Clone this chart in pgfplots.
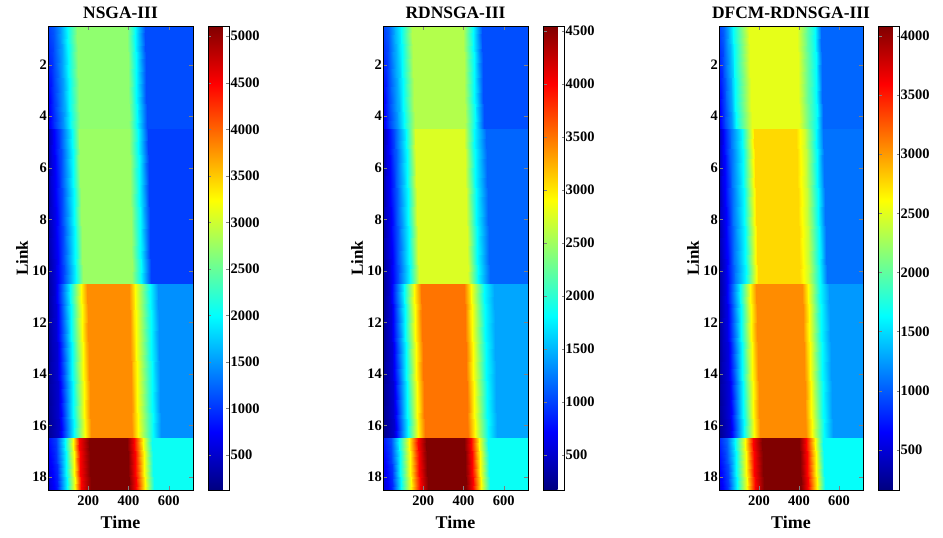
\documentclass[border=0pt]{standalone}
\usepackage{fontspec}
\setmainfont{Liberation Serif}
\usepackage{pgfplots}
\pgfplotsset{compat=1.18}

\pgfplotsset{
  /pgf/number format/1000 sep={},
  /pgf/number format/assume math mode=true,
  hm/.style={
    scale only axis, width=145bp, height=464bp,
    xmin=0, xmax=720, ymin=0.5, ymax=18.5, y dir=reverse,
    xtick={200,400,600}, ytick={2,4,...,18},
    tick pos=both, tick align=inside, major tick length=4bp,
    axis on top, colormap/jet, colorbar,
    tick label style={font=\fontsize{14.5}{14.5}\selectfont\bfseries},
    yticklabel style={inner sep=1bp},
    xticklabel style={yshift=-2bp},
    xlabel={Time}, ylabel={Link},
    xlabel style={font=\fontsize{18}{18}\selectfont\bfseries, at={(axis description cs:0.5,0)}, anchor=north, inner sep=0pt, yshift=-26bp},
    ylabel style={font=\fontsize{17}{17}\selectfont\bfseries},
    ylabel shift=0bp,
    title style={font=\fontsize{17.5}{17.5}\selectfont\bfseries, yshift=-2bp},
    colorbar style={at={(parent axis.north east)}, anchor=north west, xshift=7bp,
      scale only axis, width=21bp, height=464bp,
      yticklabel pos=right, tick align=inside, major tick length=3bp,
      yticklabel style={inner sep=1bp}},
  }
}

\begin{document}
\begin{tikzpicture}
\path[use as bounding box] (0,0) rectangle (943bp,538bp);

% NSGA-III
\begin{axis}[hm, at={(48bp,48bp)}, anchor=south west, title={NSGA-III},
  point meta min=125, point meta max=5110,
  colorbar style={ytick={500,1000,...,5000}}]
\addplot[surf, shader=interp, point meta=explicit] coordinates {
(0,0.5)[1050] (30,0.5)[1200] (65,0.5)[1550] (100,0.5)[2050] (145,0.5)[2700] (270,0.5)[2700] (390,0.5)[2700] (432,0.5)[2000] (482,0.5)[1120] (600,0.5)[1120] (720,0.5)[1120]

(0,4.5)[600] (30,4.5)[950] (80,4.5)[1500] (115,4.5)[2050] (160,4.5)[2700] (280,4.5)[2700] (400,4.5)[2700] (442,4.5)[2000] (492,4.5)[1120] (600,4.5)[1120] (720,4.5)[1120]

(0,4.5)[350] (25,4.5)[700] (60,4.5)[1100] (120,4.5)[2000] (155,4.5)[2750] (280,4.5)[2750] (400,4.5)[2750] (445,4.5)[2000] (495,4.5)[1050] (600,4.5)[1050] (720,4.5)[1050]

(0,10.5)[250] (40,10.5)[600] (80,10.5)[1100] (140,10.5)[2000] (175,10.5)[2750] (295,10.5)[2750] (415,10.5)[2750] (460,10.5)[2000] (510,10.5)[1050] (600,10.5)[1050] (720,10.5)[1050]

(0,10.5)[250] (35,10.5)[550] (108,10.5)[1994] (165,10.5)[3241] (193,10.5)[3800] (295,10.5)[3800] (400,10.5)[3800] (430,10.5)[3241] (505,10.5)[1994] (545,10.5)[1450] (720,10.5)[1450]

(0,16.5)[200] (55,16.5)[500] (128,16.5)[1994] (185,16.5)[3241] (213,16.5)[3800] (315,16.5)[3800] (418,16.5)[3800] (448,16.5)[3241] (522,16.5)[1994] (562,16.5)[1450] (720,16.5)[1450]

(0,16.5)[800] (40,16.5)[1050] (85,16.5)[1994] (122,16.5)[3241] (155,16.5)[4487] (205,16.5)[5110] (390,16.5)[5110] (425,16.5)[4487] (470,16.5)[3241] (518,16.5)[2050] (720,16.5)[2050]

(0,18.5)[500] (45,18.5)[850] (95,18.5)[1994] (132,18.5)[3241] (165,18.5)[4487] (215,18.5)[5110] (400,18.5)[5110] (435,18.5)[4487] (480,18.5)[3241] (528,18.5)[2050] (720,18.5)[2050]
};
\end{axis}

% RDNSGA-III
\begin{axis}[hm, at={(383bp,48bp)}, anchor=south west, title={RDNSGA-III},
  point meta min=170, point meta max=4547,
  colorbar style={ytick={500,1000,...,4500}}]
\addplot[surf, shader=interp, point meta=explicit] coordinates {
(0,0.5)[1000] (30,0.5)[1150] (60,0.5)[1500] (90,0.5)[1811] (145,0.5)[2580] (270,0.5)[2580] (395,0.5)[2580] (445,0.5)[1811] (490,0.5)[1050] (600,0.5)[1050] (720,0.5)[1050]

(0,4.5)[600] (30,4.5)[950] (75,4.5)[1400] (105,4.5)[1811] (160,4.5)[2580] (285,4.5)[2580] (405,4.5)[2580] (455,4.5)[1811] (500,4.5)[1050] (600,4.5)[1050] (720,4.5)[1050]

(0,4.5)[350] (25,4.5)[700] (60,4.5)[1100] (115,4.5)[1811] (160,4.5)[2750] (280,4.5)[2750] (400,4.5)[2750] (450,4.5)[1811] (510,4.5)[1150] (600,4.5)[1150] (720,4.5)[1150]

(0,10.5)[250] (40,10.5)[600] (80,10.5)[1100] (135,10.5)[1811] (180,10.5)[2750] (300,10.5)[2750] (420,10.5)[2750] (470,10.5)[1811] (530,10.5)[1150] (600,10.5)[1150] (720,10.5)[1150]

(0,10.5)[250] (35,10.5)[550] (103,10.5)[1811] (153,10.5)[2906] (187,10.5)[3500] (295,10.5)[3500] (403,10.5)[3500] (437,10.5)[2906] (503,10.5)[1811] (550,10.5)[1430] (720,10.5)[1430]

(0,16.5)[200] (55,16.5)[500] (123,16.5)[1811] (173,16.5)[2906] (207,16.5)[3500] (315,16.5)[3500] (420,16.5)[3500] (455,16.5)[2906] (520,16.5)[1811] (565,16.5)[1430] (720,16.5)[1430]

(0,16.5)[800] (40,16.5)[1050] (80,16.5)[1811] (130,16.5)[2906] (172,16.5)[4000] (215,16.5)[4547] (400,16.5)[4547] (437,16.5)[4000] (478,16.5)[2906] (520,16.5)[1850] (720,16.5)[1850]

(0,18.5)[500] (45,18.5)[850] (90,18.5)[1811] (140,18.5)[2906] (182,18.5)[4000] (225,18.5)[4547] (410,18.5)[4547] (447,18.5)[4000] (488,18.5)[2906] (530,18.5)[1850] (720,18.5)[1850]
};
\end{axis}

% DFCM-RDNSGA-III
\begin{axis}[hm, at={(719bp,48bp)}, anchor=south west, width=144bp, title={DFCM-RDNSGA-III},
  point meta min=160, point meta max=4085,
  colorbar style={ytick={500,1000,...,4000}}]
\addplot[surf, shader=interp, point meta=explicit] coordinates {
(0,0.5)[900] (25,0.5)[1050] (50,0.5)[1350] (70,0.5)[1632] (150,0.5)[2515] (270,0.5)[2515] (392,0.5)[2515] (440,0.5)[2000] (478,0.5)[1632] (510,0.5)[1043] (720,0.5)[1043]

(0,4.5)[550] (30,4.5)[900] (65,4.5)[1250] (85,4.5)[1632] (165,4.5)[2515] (285,4.5)[2515] (402,4.5)[2515] (450,4.5)[2000] (488,4.5)[1632] (520,4.5)[1043] (720,4.5)[1043]

(0,4.5)[350] (25,4.5)[700] (60,4.5)[1100] (115,4.5)[1632] (175,4.5)[2760] (280,4.5)[2760] (385,4.5)[2760] (430,4.5)[2400] (485,4.5)[1632] (520,4.5)[1090] (720,4.5)[1090]

(0,10.5)[250] (40,10.5)[600] (80,10.5)[1100] (135,10.5)[1632] (195,10.5)[2760] (300,10.5)[2760] (405,10.5)[2760] (450,10.5)[2400] (505,10.5)[1632] (540,10.5)[1090] (720,10.5)[1090]

(0,10.5)[250] (35,10.5)[550] (103,10.5)[1632] (153,10.5)[2613] (185,10.5)[3055] (300,10.5)[3055] (415,10.5)[3055] (445,10.5)[2613] (505,10.5)[1632] (550,10.5)[1240] (720,10.5)[1240]

(0,16.5)[200] (55,16.5)[500] (123,16.5)[1632] (173,16.5)[2613] (205,16.5)[3055] (320,16.5)[3055] (435,16.5)[3055] (465,16.5)[2613] (525,16.5)[1632] (570,16.5)[1240] (720,16.5)[1240]

(0,16.5)[800] (40,16.5)[1050] (80,16.5)[1632] (130,16.5)[2613] (172,16.5)[3594] (215,16.5)[4085] (400,16.5)[4085] (437,16.5)[3594] (478,16.5)[2613] (520,16.5)[1650] (720,16.5)[1650]

(0,18.5)[500] (45,18.5)[850] (90,18.5)[1632] (140,18.5)[2613] (182,18.5)[3594] (225,18.5)[4085] (410,18.5)[4085] (447,18.5)[3594] (488,18.5)[2613] (530,18.5)[1650] (720,18.5)[1650]
};
\end{axis}
\end{tikzpicture}
\end{document}
